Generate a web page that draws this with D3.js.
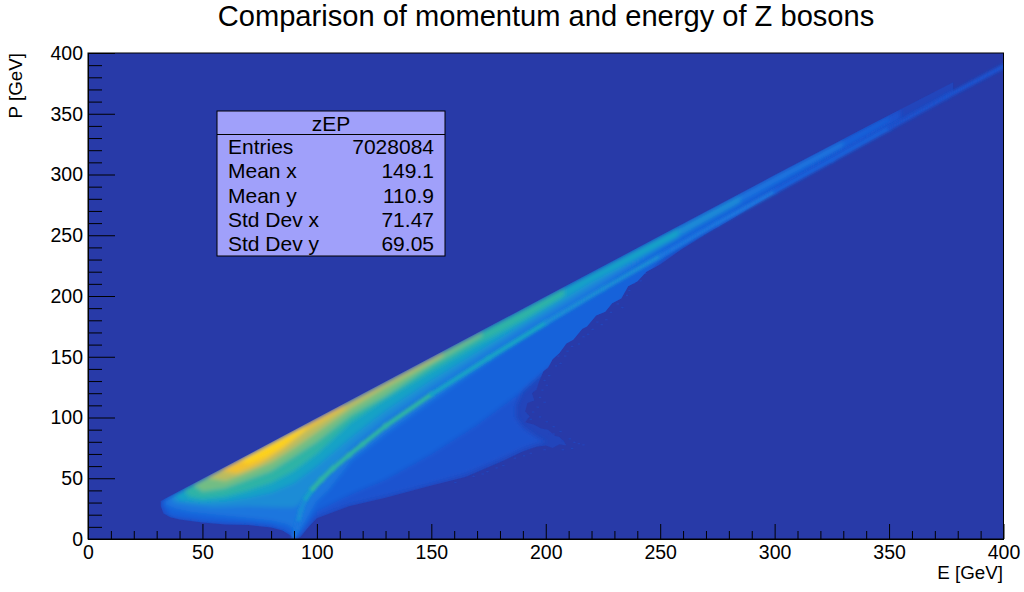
<!DOCTYPE html>
<html>
<head>
<meta charset="utf-8">
<script src="https://cdnjs.cloudflare.com/ajax/libs/d3/7.8.5/d3.min.js"></script>
<style>
  html, body { margin: 0; padding: 0; background: #fff; }
  text { font-family: "Liberation Sans", Arial, sans-serif; fill: #000; }
</style>
</head>
<body>
<div class="vis"></div>
<script>
// axis ticks
const xMajor = [0, 50, 100, 150, 200, 250, 300, 350, 400]
const xMinor = [10, 20, 30, 40, 60, 70, 80, 90, 110, 120, 130, 140, 160, 170, 180, 190, 210, 220, 230, 240, 260, 270, 280, 290, 310, 320, 330, 340, 360, 370, 380, 390]
const yMajor = xMajor
const yMinor = xMinor

// stats box
const statsTitle = 'zEP'
const statsNames = ['Entries', 'Mean x', 'Mean y', 'Std Dev x', 'Std Dev y']
const statsValues = ['7028084', '149.1', '110.9', '71.47', '69.05']

// density levels, each one an outline in (E, P)
const level0E = [31.8, 34, 60, 100, 150, 200, 250, 300, 340, 378, 378, 360, 340, 320, 300, 280, 270, 259, 250, 244, 240, 236, 233, 229, 226, 222, 218, 216, 212, 209, 206, 203, 201, 199, 197, 196, 194, 195, 192, 191, 193, 191, 195, 198, 201, 204, 206, 208, 209, 206, 203, 200, 196, 190, 181, 165, 150, 130, 114, 100, 96, 93, 91.5, 90, 88, 85, 80, 70, 60, 50, 40, 36, 33, 31.8]
const level0P = [31, 33.5, 59.5, 99.5, 149.5, 199.5, 249.5, 299.5, 339, 376, 368, 350, 328, 307, 285, 262, 251, 238, 226, 220, 212, 208, 198, 194, 187, 184, 175, 173, 164, 161, 153, 148, 141, 138, 129, 123, 120, 114, 112, 105, 101, 96, 94, 91, 90, 85, 84, 80, 77, 78, 75, 77, 76, 72, 64, 51, 44, 34, 27, 17, 9, 2, 0.3, 1, 3.5, 7, 9.5, 11.5, 12, 13.5, 16, 18, 21, 27, 31]

const level1E = [31.8, 34, 60, 100, 150, 200, 250, 300, 340, 355, 355, 340, 320, 300, 280, 265, 250, 240, 232, 224, 212, 203, 196, 190, 187, 187, 190, 196, 200, 196, 190, 181, 165, 150, 130, 114, 100, 96, 93, 91.5, 90, 88, 85, 80, 70, 60, 50, 40, 36, 33, 31.8]
const level1P = [31, 33.5, 59.5, 99.5, 149.5, 199.5, 249.5, 299.5, 339, 354, 345, 328, 307, 285, 262, 246, 228, 215, 203, 192, 172, 156, 138, 122, 110, 100, 92, 84, 80, 78, 74, 66, 53, 45, 35, 28, 18, 9, 2, 0.3, 1, 3.5, 7, 9.5, 11.5, 12, 13.5, 16, 18, 21, 27, 31]

const level2E = [32.5, 60, 100, 150, 200, 250, 300, 340, 350, 350, 340, 300, 270, 250, 230, 210, 190, 170, 150, 130, 115, 100, 95, 92, 90, 87, 80, 70, 50, 36, 33]
const level2P = [31.5, 59, 99, 149, 199, 249, 299, 338.5, 348, 344, 333, 290, 255, 228, 190, 155, 122, 94, 70, 49, 37, 23, 10, 2, 3, 6, 11, 13, 15, 19, 27]

const level3E = [34, 60, 100, 150, 200, 250, 300, 330, 330, 300, 270, 250, 230, 210, 190, 170, 150, 130, 115, 105, 100, 96, 93, 91, 90, 87, 80, 70, 55, 45, 38, 34]
const level3P = [32.5, 58.5, 98.5, 148.5, 198.5, 248.5, 298.5, 328, 323, 293, 262, 238, 214, 189, 165, 139, 113, 86, 64, 40, 31, 18, 8, 5, 8, 12, 15, 17, 20, 22, 25, 28]

const level4E = [36, 60, 100, 150, 200, 250, 285, 285, 250, 220, 190, 170, 150, 130, 115, 105, 100, 95, 92, 90, 85, 70, 55, 45, 38]
const level4P = [34, 58, 98, 148, 198, 248, 283, 277, 241, 207, 173, 149, 125, 99, 76, 54, 44, 34, 28, 26, 26, 27, 26, 28, 30]

const level5E = [38, 60, 100, 150, 200, 258, 258, 220, 200, 175, 150, 130, 115, 100, 90, 80, 70, 60, 50, 40]
const level5P = [36, 58, 98.5, 148.5, 198.5, 256, 249, 212, 189, 160, 131, 106, 84, 60, 46, 38, 34, 31, 30, 32]

const level6E = [42, 60, 100, 150, 208, 208, 190, 170, 150, 130, 115, 100, 90, 80, 70, 60, 50, 44]
const level6P = [40.5, 58.5, 98.5, 148.5, 206.5, 200, 180, 160, 138, 115, 96, 70, 56, 46, 40, 35, 33, 35]

const level7E = [46, 60, 100, 150, 172, 172, 150, 130, 115, 100, 90, 80, 70, 60, 50]
const level7P = [44.5, 58.5, 98.5, 148.5, 170.5, 167, 143, 118, 102, 80, 68, 56, 49, 42, 39]

const level8E = [52, 60, 100, 155, 155, 130, 115, 100, 90, 80, 70, 60]
const level8P = [50.5, 58.5, 98.5, 153.5, 151, 125, 108, 88, 75, 63, 55, 48]

const level9E = [58, 80, 112, 112, 95, 85, 75, 65]
const level9P = [56.5, 78.5, 110.5, 108, 89, 74, 62, 54]

const level10E = [66, 80, 95, 95, 85, 78, 70]
const level10P = [64.5, 78.5, 93.5, 90, 76, 68, 62]

const levels = [
  [level1E, level1P], [level2E, level2P], [level3E, level3P], [level4E, level4P], [level5E, level5P],
  [level6E, level6P], [level7E, level7P], [level8E, level8P], [level9E, level9P], [level10E, level10P]
]

// lone low count bins along the fuzzy edge
const speckleE = [236, 238, 241, 231, 233, 228, 226, 222, 220, 216, 214, 211, 208, 206, 204, 201, 199, 198, 197, 196, 194, 197, 200, 203, 206, 203, 210, 212, 214, 211, 207, 199, 193, 186, 178, 172, 160, 168, 190, 358, 362, 366, 371, 374, 243, 235, 224, 218, 209, 205, 200, 199, 193, 201, 207, 216, 181, 174]
const speckleP = [204, 210, 212, 193, 190, 186, 180, 178, 172, 166, 160, 158, 150, 144, 142, 134, 130, 122, 116, 108, 104, 100, 96, 92, 88, 86, 82, 79, 78, 74, 73, 73, 70, 66, 58, 53, 46, 51, 68, 347, 352, 354, 360, 364, 218, 200, 176, 168, 154, 150, 126, 112, 98, 86, 80, 77, 60, 55]

// the narrow on-shell ridge
const ridgeE = [90, 91, 92, 93, 95, 98, 102, 107, 114, 120, 130, 150, 175, 200, 225, 250, 275, 300, 325, 350, 375, 400]
const ridgeP = [2, 8, 16, 24, 33, 41, 49, 58, 69, 78, 93, 119, 149, 178, 206, 233, 260, 286, 312, 338, 364, 389]
const ridgeLevel = [2, 3, 3, 4, 4, 5, 6, 6, 6, 6, 6, 6, 5, 5, 4, 4, 3, 3, 2, 2, 1, 1]

const w = 1024
const h = 592
const left = 88
const right = 1003.5
const top_ = 53
const bottom = 539

const palette = ['#2144bb', '#1a52cf', '#1862da', '#1a76de', '#1a8cd6', '#14a2c6', '#2eb3a6', '#72bd84', '#bcbc5e', '#f2c02e', '#fdd21a']
const colorScale = d3.scaleOrdinal().domain(d3.range(0, 11)).range(palette)

const x = d3.scaleLinear().domain([0, 400]).range([left, right])
const y = d3.scaleLinear().domain([0, 400]).range([bottom, top_])

const svg = d3.select('.vis').append('svg')
  .attr('width', w)
  .attr('height', h)
  .style('display', 'block')

const defs = svg.append('defs')
function blur(id, amount) {
  defs.append('filter').attr('id', id).attr('filterUnits', 'userSpaceOnUse')
    .attr('x', 0).attr('y', 0).attr('width', w).attr('height', h)
    .append('feGaussianBlur').attr('stdDeviation', amount)
}
blur('soft', 2)
blur('softRidge', 1)
blur('softEdge', 0.7)

function outline(es, ps) {
  return d3.line().x(d => x(d[0])).y(d => y(d[1]))(es.map((e, i) => [e, ps[i]])) + 'Z'
}

defs.append('clipPath').attr('id', 'lobe').append('path').attr('d', outline(level0E, level0P))
defs.append('clipPath').attr('id', 'plot').append('rect')
  .attr('x', left).attr('y', top_).attr('width', right - left).attr('height', bottom - top_)

// background
svg.append('rect')
  .attr('x', left).attr('y', top_)
  .attr('width', right - left).attr('height', bottom - top_)
  .attr('fill', '#283aa8')

// density levels
const edge = svg.append('g').attr('filter', 'url(#softEdge)')
edge.append('path').attr('d', outline(level0E, level0P)).attr('fill', colorScale(0))

edge.append('g').selectAll('rect')
  .data(speckleE)
  .enter().append('rect')
  .attr('x', d => x(d))
  .attr('y', (d, i) => y(speckleP[i] + 1))
  .attr('width', d => x(d + 1) - x(d))
  .attr('height', (d, i) => y(speckleP[i]) - y(speckleP[i] + 1))
  .attr('fill', colorScale(0))

svg.append('g').attr('clip-path', 'url(#lobe)')
  .append('g').attr('filter', 'url(#soft)')
  .selectAll('path')
  .data(levels)
  .enter().append('path')
  .attr('d', d => outline(d[0], d[1]))
  .attr('fill', (d, i) => colorScale(i + 1))

// ridge, one segment per pair of read points, with a faint halo under it
const ridge = svg.append('g').attr('clip-path', 'url(#plot)')
  .append('g').attr('filter', 'url(#softRidge)')

function drawRidge(width, opacity) {
  ridge.append('g').selectAll('line')
    .data(ridgeE.slice(1))
    .enter().append('line')
    .attr('x1', (d, i) => x(ridgeE[i]))
    .attr('y1', (d, i) => y(ridgeP[i]))
    .attr('x2', (d, i) => x(ridgeE[i + 1]))
    .attr('y2', (d, i) => y(ridgeP[i + 1]))
    .attr('stroke', (d, i) => colorScale(ridgeLevel[i + 1]))
    .attr('stroke-width', width)
    .attr('stroke-opacity', opacity)
    .attr('stroke-linecap', 'round')
}
drawRidge(7, 0.35)
drawRidge(3.5, 1)

// frame
svg.append('rect')
  .attr('x', left).attr('y', top_)
  .attr('width', right - left).attr('height', bottom - top_)
  .attr('fill', 'none')
  .attr('stroke', '#000')
  .attr('stroke-width', 1)

// axes
const xAxis = d3.axisBottom(x).tickValues(xMajor).tickSize(-15).tickSizeOuter(0).tickPadding(7)
const xAxisMinor = d3.axisBottom(x).tickValues(xMinor).tickSize(-8).tickSizeOuter(0).tickFormat('')
const yAxis = d3.axisLeft(y).tickValues(yMajor).tickSize(-27).tickSizeOuter(0).tickPadding(5)
const yAxisMinor = d3.axisLeft(y).tickValues(yMinor).tickSize(-14).tickSizeOuter(0).tickFormat('')

svg.append('g').attr('transform', 'translate(0,' + bottom + ')').call(xAxisMinor)
svg.append('g').attr('class', 'x-axis').attr('transform', 'translate(0,' + bottom + ')').call(xAxis)
svg.append('g').attr('transform', 'translate(' + left + ',0)').call(yAxisMinor)
svg.append('g').attr('class', 'y-axis').attr('transform', 'translate(' + left + ',0)').call(yAxis)

svg.selectAll('.x-axis text, .y-axis text')
  .attr('font-size', 19.5)
  .style('font-family', '"Liberation Sans", Arial, sans-serif')

// y labels sit to the left of the frame even with inward ticks
svg.selectAll('.y-axis text').attr('x', -5)
svg.selectAll('.x-axis text').attr('y', 6)

// title and axis titles
svg.append('text')
  .attr('x', 546).attr('y', 25.5)
  .attr('text-anchor', 'middle')
  .attr('font-size', 29.1)
  .text('Comparison of momentum and energy of Z bosons')

svg.append('text')
  .attr('x', 1003).attr('y', 579)
  .attr('text-anchor', 'end')
  .attr('font-size', 18.8)
  .text('E [GeV]')

svg.append('text')
  .attr('transform', 'translate(22,53) rotate(-90)')
  .attr('text-anchor', 'end')
  .attr('font-size', 18.8)
  .text('P [GeV]')

// stats box
const stats = svg.append('g')
stats.append('rect')
  .attr('x', 217).attr('y', 111).attr('width', 228).attr('height', 145)
  .attr('fill', '#a0a0fa')
  .attr('stroke', '#000')
stats.append('line')
  .attr('x1', 217).attr('x2', 445).attr('y1', 134.5).attr('y2', 134.5)
  .attr('stroke', '#000')
stats.append('text')
  .attr('x', 331).attr('y', 131)
  .attr('text-anchor', 'middle')
  .attr('font-size', 21)
  .text(statsTitle)

const rowY = d3.scalePoint().domain(statsNames).range([154, 251])
stats.selectAll('.name')
  .data(statsNames)
  .enter().append('text')
  .attr('class', 'name')
  .attr('x', 228)
  .attr('y', d => rowY(d))
  .attr('font-size', 21)
  .text(d => d)
stats.selectAll('.value')
  .data(statsValues)
  .enter().append('text')
  .attr('class', 'value')
  .attr('x', 434)
  .attr('y', (d, i) => rowY(statsNames[i]))
  .attr('text-anchor', 'end')
  .attr('font-size', 21)
  .text(d => d)
</script>
</body>
</html>
